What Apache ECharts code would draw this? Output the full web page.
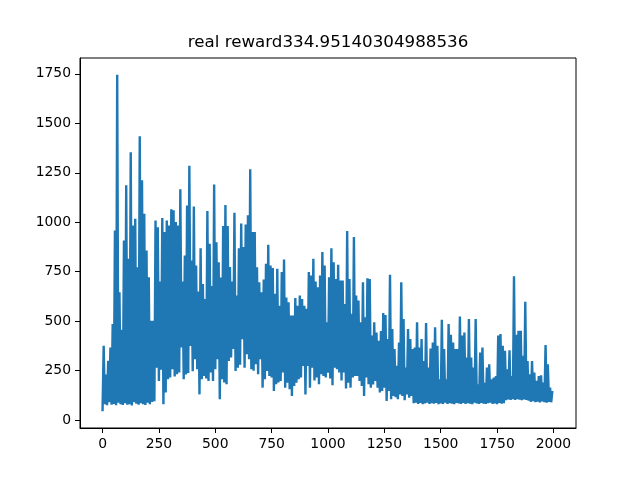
<!DOCTYPE html>
<html>
<head>
<meta charset="utf-8">
<script src="https://cdn.jsdelivr.net/npm/echarts@6/dist/echarts.min.js"></script>
<style>
  html, body { margin: 0; padding: 0; background: #fff; }
  #main { width: 640px; height: 480px; }
</style>
</head>
<body>
<div id="main"></div>
<script>
// reward per episode, every 10 episodes (band top / band bottom)
const titleText = 'real reward334.95140304988536';
const xTicks = [0, 250, 500, 750, 1000, 1250, 1500, 1750, 2000];
const yTicks = [0, 250, 500, 750, 1000, 1250, 1500, 1750];
const step = 10;

const hi = [
  375, 230, 300, 367, 485, 958, 1745, 646, 457, 908,
  1187, 815, 1353, 984, 1018, 773, 1435, 1212, 1043, 857,
  722, 502, 502, 1009, 975, 700, 1021, 950, 1009, 984,
  1065, 1060, 1001, 984, 1167, 700, 832, 1085, 1285, 806,
  1080, 781, 650, 869, 688, 612, 1057, 891, 678, 1190,
  899, 798, 720, 981, 1087, 981, 773, 700, 1048, 629,
  869, 993, 875, 988, 1035, 1268, 950, 950, 773, 697,
  646, 710, 790, 886, 781, 768, 639, 765, 578, 748,
  811, 620, 596, 528, 528, 617, 578, 629, 612, 578,
  562, 748, 731, 815, 700, 671, 731, 849, 781, 494,
  722, 869, 798, 713, 785, 705, 705, 587, 955, 713,
  537, 925, 629, 604, 494, 697, 520, 717, 713, 427,
  494, 443, 401, 450, 541, 531, 410, 735, 460, 359,
  274, 392, 697, 511, 265, 460, 410, 359, 367, 494,
  367, 410, 299, 490, 265, 362, 392, 469, 375, 206,
  507, 359, 206, 486, 431, 392, 359, 359, 524, 427,
  443, 316, 511, 316, 265, 511, 181, 342, 367, 189,
  265, 282, 206, 215, 223, 427, 435, 375, 350, 257,
  353, 223, 727, 431, 452, 452, 325, 598, 299, 232,
  299, 240, 198, 223, 226, 189, 379, 282, 164, 147
];

const lo = [
  45, 80, 75, 90, 78, 82, 75, 88, 80, 76,
  85, 78, 80, 74, 90, 82, 78, 85, 80, 76,
  88, 80, 92, 95, 265, 198, 255, 80, 139, 206,
  215, 257, 220, 232, 240, 367, 206, 230, 238, 375,
  247, 308, 257, 130, 206, 223, 210, 198, 240, 198,
  257, 308, 105, 206, 190, 181, 299, 316, 359, 248,
  265, 280, 409, 265, 333, 308, 257, 250, 282, 232,
  308, 164, 206, 248, 223, 215, 147, 181, 190, 198,
  240, 164, 189, 156, 122, 172, 189, 206, 215, 274,
  130, 274, 164, 265, 200, 215, 181, 232, 223, 215,
  240, 210, 176, 265, 257, 240, 200, 240, 160, 189,
  164, 215, 223, 223, 198, 172, 122, 215, 181, 164,
  180, 198, 164, 139, 147, 164, 96, 147, 105, 122,
  115, 105, 130, 122, 100, 130, 113, 122, 85, 88,
  82, 86, 80, 84, 88, 81, 85, 83, 87, 80,
  84, 82, 88, 81, 85, 83, 80, 86, 84, 82,
  87, 81, 85, 83, 80, 88, 84, 82, 86, 83,
  81, 85, 88, 82, 84, 80, 86, 83, 85, 100,
  104, 102, 106, 101, 105, 103, 100, 104, 102, 98,
  92, 95, 90, 93, 89, 94, 91, 88, 92, 90
];

// zigzag low -> high inside each 10-episode slot
const points = [];
for (let i = 0; i < hi.length; i++) {
  points.push([i * step, lo[i]]);
  points.push([i * step + step / 2, hi[i]]);
}

const chart = echarts.init(document.getElementById('main'), null, { renderer: 'canvas' });

const font = 'DejaVu Sans';
const plain = function (v) { return String(v); };

option = {
  animation: false,
  backgroundColor: '#fff',
  graphic: [{
    type: 'text',
    x: 328, y: 43,
    style: {
      text: titleText,
      fill: '#000',
      font: '16.7px "DejaVu Sans"',
      textAlign: 'center',
      textVerticalAlign: 'middle'
    }
  }],
  grid: {
    left: 80, right: 64, top: 58, bottom: 52,
    show: true,
    borderColor: '#000',
    borderWidth: 1
  },
  xAxis: {
    type: 'value',
    min: -100,
    max: 2100,
    splitLine: { show: false },
    axisLine: { onZero: false, lineStyle: { color: '#000', width: 1 } },
    axisTick: { customValues: xTicks, length: 5, lineStyle: { color: '#000' } },
    axisLabel: {
      customValues: xTicks,
      formatter: plain,
      margin: 9,
      color: '#000',
      fontFamily: font,
      fontSize: 13.9
    }
  },
  yAxis: {
    type: 'value',
    min: -40,
    max: 1830,
    splitLine: { show: false },
    axisLine: { show: true, onZero: false, lineStyle: { color: '#000', width: 1 } },
    axisTick: { show: true, customValues: yTicks, length: 5, lineStyle: { color: '#000' } },
    axisLabel: {
      customValues: yTicks,
      formatter: plain,
      margin: 9,
      color: '#000',
      fontFamily: font,
      fontSize: 13.9
    }
  },
  series: [{
    type: 'line',
    data: points,
    showSymbol: false,
    symbol: 'none',
    lineStyle: { color: '#1f77b4', width: 2.4 },
    clip: true
  }]
};

chart.setOption(option);
</script>
</body>
</html>
